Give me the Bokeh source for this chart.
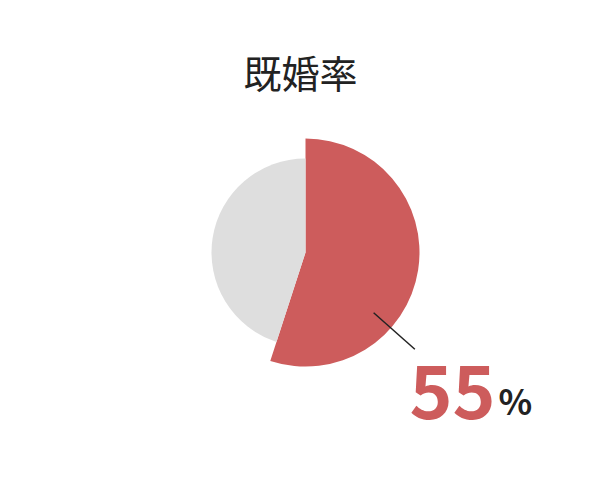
import math
from bokeh.plotting import figure
from bokeh.models import Range1d, ColumnDataSource
from bokeh.core.properties import value
from bokeh.embed import file_html
from bokeh.resources import INLINE

title = "既婚率"
categories = ["既婚", "未婚"]
percents = [55, 45]
colors = ["#cd5c5c", "#dedede"]
radii = [114, 94]

W, H = 584, 464
p = figure(width=W, height=H, output_backend="svg", toolbar_location=None,
           x_range=Range1d(0, W), y_range=Range1d(0, H), min_border=0)
p.axis.visible = False
p.grid.visible = False
p.outline_line_color = None
p.background_fill_color = "white"

cx, cy = 305, 212
# angles: start at 12 o'clock, clockwise
starts, ends = [], []
acc = 0.0
for v in percents:
    a0 = math.pi / 2 - 2 * math.pi * (acc + v) / 100
    a1 = math.pi / 2 - 2 * math.pi * acc / 100
    starts.append(a0)
    ends.append(a1)
    acc += v

src = ColumnDataSource(dict(cat=categories, start=starts, end=ends, r=radii, color=colors))
p.wedge(x=cx, y=cy, radius="r", start_angle="start", end_angle="end",
        fill_color="color", line_color=None, source=src)

# leader line
ang = math.radians(-41.5)
r0, r1 = 91, 146
p.segment(x0=[cx + r0 * math.cos(ang)], y0=[cy + r0 * math.sin(ang)],
          x1=[cx + r1 * math.cos(ang)], y1=[cy + r1 * math.sin(ang)],
          line_color="#222222", line_width=1.5)

p.text(x=[300], y=[393], text=[title], text_align="center", text_baseline="middle",
       text_font=value("Noto Sans CJK JP"), text_font_size="38px", text_color="#222222")

p.text(x=[409], y=[73], text=[str(percents[0])], text_align="left", text_baseline="alphabetic",
       text_font=value("Noto Sans CJK JP"), text_font_style="bold", text_font_size="73px",
       text_color=colors[0])
p.text(x=[498], y=[65], text=["%"], text_align="left", text_baseline="alphabetic",
       text_font=value("Noto Sans CJK JP"), text_font_style="bold", text_font_size="35px",
       text_color="#222222")

open("out.html", "w").write(file_html(p, INLINE))
